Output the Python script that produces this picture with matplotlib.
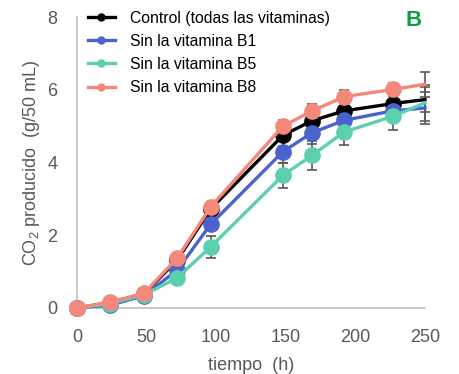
import matplotlib
matplotlib.use("Agg")
import matplotlib.pyplot as plt
from matplotlib.lines import Line2D

plt.rcParams['font.family'] = ['Liberation Sans', 'DejaVu Sans']
plt.rcParams['mathtext.fontset'] = 'custom'
plt.rcParams['mathtext.rm'] = 'Liberation Sans'
plt.rcParams['mathtext.it'] = 'Liberation Sans:italic'

tiempo = [0, 24, 48, 72, 96, 148, 169, 192, 227, 250]

control = [0.0, 0.15, 0.38, 1.32, 2.72, 4.75, 5.15, 5.42, 5.62, 5.73]
sin_b1 = [0.0, 0.08, 0.34, 1.04, 2.30, 4.30, 4.82, 5.16, 5.42, 5.50]
sin_b5 = [0.0, 0.12, 0.36, 0.83, 1.68, 3.65, 4.20, 4.84, 5.27, 5.64]
sin_b8 = [0.0, 0.17, 0.40, 1.37, 2.78, 5.00, 5.42, 5.81, 6.01, 6.15]

err_control = [0.0, 0.03, 0.05, 0.10, 0.10, 0.30, 0.30, 0.25, 0.20, 0.35]
err_b1 = [0.0, 0.03, 0.05, 0.10, 0.15, 0.30, 0.30, 0.20, 0.20, 0.45]
err_b5 = [0.0, 0.03, 0.05, 0.12, 0.30, 0.35, 0.40, 0.36, 0.38, 0.50]
err_b8 = [0.0, 0.03, 0.05, 0.10, 0.10, 0.18, 0.18, 0.18, 0.18, 0.34]

etiquetas = ["Control (todas las vitaminas)", "Sin la vitamina B1",
             "Sin la vitamina B5", "Sin la vitamina B8"]
colores = ["#000000", "#4a63cc", "#5ccfae", "#f4887a"]

series = [control, sin_b1, sin_b5, sin_b8]
errores = [err_control, err_b1, err_b5, err_b8]

fig = plt.figure(figsize=(4.59, 3.74), dpi=100)
ax = fig.add_axes([77/459, 1-308/374, (425-77)/459, (308-17)/374])

n = len(tiempo)
for y, e, c in zip(series, errores, colores):
    ax.errorbar(tiempo, y, yerr=e, fmt='none', ecolor='#595959',
                elinewidth=1.2, capsize=3.5, capthick=1.2, zorder=2, clip_on=False)
for y, c, lab in zip(series, colores, etiquetas):
    ax.plot(tiempo, y, color=c, lw=2.4, marker='o', ms=11,
            markevery=list(range(n-1)), zorder=3, label=lab, clip_on=False)

ax.set_xlim(0, 250)
ax.set_ylim(0, 8)
ax.set_xticks([0, 50, 100, 150, 200, 250])
ax.set_yticks([0, 2, 4, 6, 8])
ax.tick_params(length=0, labelsize=13, labelcolor='#595959')
ax.tick_params(axis='x', pad=15)
ax.tick_params(axis='y', pad=14)
for s in ['top', 'right']:
    ax.spines[s].set_visible(False)
for s in ['left', 'bottom']:
    ax.spines[s].set_color('#bfbfbf')
    ax.spines[s].set_linewidth(1.2)

ax.set_xlabel("tiempo  (h)", fontsize=13, color='#595959', labelpad=8)
ax.set_ylabel("CO$_2$ producido  (g/50 mL)", fontsize=13, color='#595959', labelpad=4)

handles = [Line2D([], [], color=c, lw=2.4, marker='o', ms=5) for c in colores]
leg = ax.legend(handles, etiquetas, loc='upper left', bbox_to_anchor=(0.0, 1.06),
                frameon=False, fontsize=11.3, handlelength=1.7, handletextpad=0.95,
                labelspacing=0.52, borderaxespad=0.3)

ax.text(0.991, 1.024, "B", transform=ax.transAxes, ha='right', va='top',
        fontsize=16, fontweight='bold', color='#0a9e3c')

fig.savefig("out.png", dpi=100)
